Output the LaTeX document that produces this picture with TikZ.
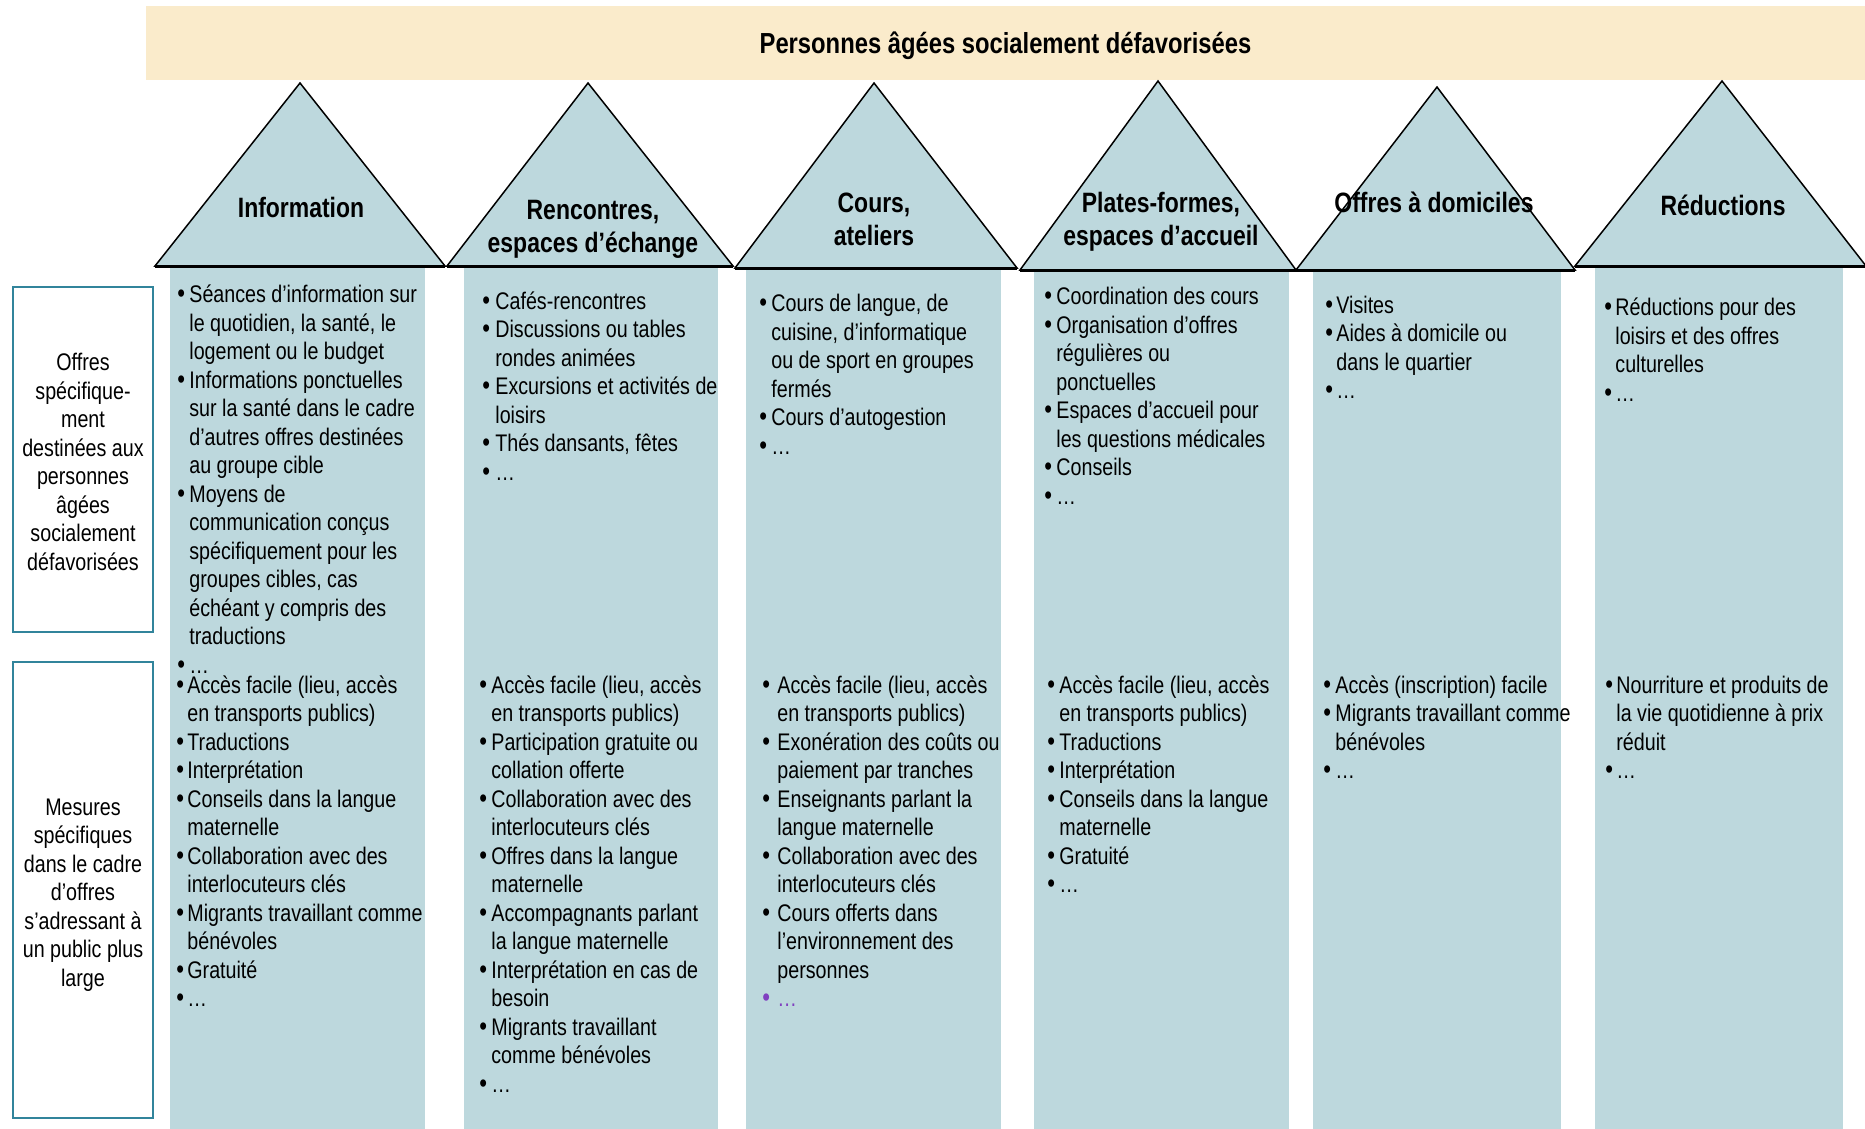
\documentclass[tikz,border=0pt]{standalone}
\usepackage{fontspec}
\setmainfont{Liberation Sans}[FakeStretch=0.82]
\definecolor{bannerc}{HTML}{FAEBCB}
\definecolor{colc}{HTML}{BDD8DD}
\definecolor{boxteal}{HTML}{31849B}
\definecolor{purpc}{HTML}{8040C0}
\newcommand\bodyfont{\fontsize{12pt}{14.25pt}\selectfont}
\newcommand\headfont{\bfseries\fontsize{14pt}{16.5pt}\selectfont}
\newcommand\bstr{\rule[-3.5pt]{0pt}{14.25pt}}
\newcommand\hstr{\rule[-4pt]{0pt}{16.5pt}}
\newcommand\Itm[1][6pt]{\bstr\llap{\makebox[#1][l]{\fontsize{13.5pt}{14pt}\selectfont •}}}
\newcommand\Cnt{\bstr}
\begin{document}
\begin{tikzpicture}[x=0.5pt,y=-0.5pt,
  body/.style={anchor=north west,inner sep=0pt,align=left,font=\bodyfont},
  sidelbl/.style={anchor=north,inner sep=0pt,align=center,font=\bodyfont},
  headlbl/.style={anchor=north,inner sep=0pt,align=center,font=\headfont},
  tri/.style={fill=colc,draw=black,line width=0.75pt,line join=miter},
  tribase/.style={draw=black,line width=1.5pt},
  sidebox/.style={draw=boxteal,line width=1pt,fill=white}]
\useasboundingbox (0,0) rectangle (1865,1129);
% banner
\fill[bannerc] (146,6) rectangle (1865,80);
\node[anchor=base,inner sep=0pt,font=\bfseries\fontsize{14.5pt}{17pt}\selectfont] (title) at (1005.5,54) {Personnes âgées socialement défavorisées};
% columns
\fill[colc] (170,268) rectangle (425,1129);
\fill[colc] (464,268) rectangle (718,1129);
\fill[colc] (746,268) rectangle (1001,1129);
\fill[colc] (1034,270) rectangle (1289,1129);
\fill[colc] (1313,270) rectangle (1561,1129);
\fill[colc] (1595,268) rectangle (1843,1129);
% triangles
\filldraw[tri] (155,266) -- (300,83) -- (445,266) -- cycle;
\draw[tribase] (155,266) -- (445,266);
\filldraw[tri] (447,266) -- (588,83) -- (733,266) -- cycle;
\draw[tribase] (447,266) -- (733,266);
\filldraw[tri] (735,268) -- (874,83) -- (1017,268) -- cycle;
\draw[tribase] (735,268) -- (1017,268);
\filldraw[tri] (1020,270) -- (1158,81) -- (1296,270) -- cycle;
\draw[tribase] (1020,270) -- (1296,270);
\filldraw[tri] (1296,270) -- (1437,87) -- (1575,270) -- cycle;
\draw[tribase] (1296,270) -- (1575,270);
\filldraw[tri] (1575,266) -- (1722,81) -- (1866,266) -- cycle;
\draw[tribase] (1575,266) -- (1866,266);
% triangle labels
\node[headlbl] (h1) at (301,191.8) {\hstr Information};
\node[headlbl] (h2) at (593,193.8) {\hstr Rencontres,\\\hstr espaces d’échange};
\node[headlbl] (h3) at (874,186.8) {\hstr Cours,\\\hstr ateliers};
\node[headlbl] (h4) at (1161,186.8) {\hstr Plates-formes,\\\hstr espaces d’accueil};
\node[headlbl] (h5) at (1434,186.8) {\hstr Offres à domiciles};
\node[headlbl] (h6) at (1723,189.8) {\hstr Réductions};
% side boxes
\draw[sidebox] (13,287) rectangle (153,632);
\draw[sidebox] (13,662) rectangle (153,1118);
\node[sidelbl] (s1) at (83,348.6) {\bstr Offres\\\bstr spécifique-\\\bstr ment\\\bstr destinées aux\\\bstr personnes\\\bstr âgées\\\bstr socialement\\\bstr défavorisées};
\node[sidelbl] (s2) at (83,793.2) {\bstr Mesures\\\bstr spécifiques\\\bstr dans le cadre\\\bstr d’offres\\\bstr s’adressant à\\\bstr un public plus\\\bstr large};
% column 1
\node[body] (c1a) at (189,280.8) {\Itm Séances d’information sur\\
\Cnt le quotidien, la santé, le\\
\Cnt logement ou le budget\\
\Itm Informations ponctuelles\\
\Cnt sur la santé dans le cadre\\
\Cnt d’autres offres destinées\\
\Cnt au groupe cible\\
\Itm Moyens de\\
\Cnt communication conçus\\
\Cnt spécifiquement pour les\\
\Cnt groupes cibles, cas\\
\Cnt échéant y compris des\\
\Cnt traductions\\
\Itm …};
\node[body] (c1b) at (187,671.2) {\Itm[5.5pt]Accès facile (lieu, accès\\
\Cnt en transports publics)\\
\Itm[5.5pt]Traductions\\
\Itm[5.5pt]Interprétation\\
\Itm[5.5pt]Conseils dans la langue\\
\Cnt maternelle\\
\Itm[5.5pt]Collaboration avec des\\
\Cnt interlocuteurs clés\\
\Itm[5.5pt]Migrants travaillant comme\\
\Cnt bénévoles\\
\Itm[5.5pt]Gratuité\\
\Itm[5.5pt]…};
% column 2
\node[body] (c2a) at (495,287.5) {\Itm[6.5pt]Cafés-rencontres\\
\Itm[6.5pt]Discussions ou tables\\
\Cnt rondes animées\\
\Itm[6.5pt]Excursions et activités de\\
\Cnt loisirs\\
\Itm[6.5pt]Thés dansants, fêtes\\
\Itm[6.5pt]…};
\node[body] (c2b) at (491,671.2) {\Itm Accès facile (lieu, accès\\
\Cnt en transports publics)\\
\Itm Participation gratuite ou\\
\Cnt collation offerte\\
\Itm Collaboration avec des\\
\Cnt interlocuteurs clés\\
\Itm Offres dans la langue\\
\Cnt maternelle\\
\Itm Accompagnants parlant\\
\Cnt la langue maternelle\\
\Itm Interprétation en cas de\\
\Cnt besoin\\
\Itm Migrants travaillant\\
\Cnt comme bénévoles\\
\Itm …};
% column 3
\node[body] (c3a) at (771,290) {\Itm Cours de langue, de\\
\Cnt cuisine, d’informatique\\
\Cnt ou de sport en groupes\\
\Cnt fermés\\
\Itm Cours d’autogestion\\
\Itm …};
\node[body] (c3b) at (777,671.2) {\Itm[7.5pt]Accès facile (lieu, accès\\
\Cnt en transports publics)\\
\Itm[7.5pt]Exonération des coûts ou\\
\Cnt paiement par tranches\\
\Itm[7.5pt]Enseignants parlant la\\
\Cnt langue maternelle\\
\Itm[7.5pt]Collaboration avec des\\
\Cnt interlocuteurs clés\\
\Itm[7.5pt]Cours offerts dans\\
\Cnt l’environnement des\\
\Cnt personnes\\
\textcolor{purpc}{\Itm[7.5pt]…}};
% column 4
\node[body] (c4a) at (1056,283) {\Itm Coordination des cours\\
\Itm Organisation d’offres\\
\Cnt régulières ou\\
\Cnt ponctuelles\\
\Itm Espaces d’accueil pour\\
\Cnt les questions médicales\\
\Itm Conseils\\
\Itm …};
\node[body] (c4b) at (1059,671.2) {\Itm Accès facile (lieu, accès\\
\Cnt en transports publics)\\
\Itm Traductions\\
\Itm Interprétation\\
\Itm Conseils dans la langue\\
\Cnt maternelle\\
\Itm Gratuité\\
\Itm …};
% column 5
\node[body] (c5a) at (1336,291.5) {\Itm[5.5pt]Visites\\
\Itm[5.5pt]Aides à domicile ou\\
\Cnt dans le quartier\\
\Itm[5.5pt]…};
\node[body] (c5b) at (1335,671.2) {\Itm Accès (inscription) facile\\
\Itm Migrants travaillant comme\\
\Cnt bénévoles\\
\Itm …};
% column 6
\node[body] (c6a) at (1615,294) {\Itm[5.5pt]Réductions pour des\\
\Cnt loisirs et des offres\\
\Cnt culturelles\\
\Itm[5.5pt]…};
\node[body] (c6b) at (1616,671.2) {\Itm[5.5pt]Nourriture et produits de\\
\Cnt la vie quotidienne à prix\\
\Cnt réduit\\
\Itm[5.5pt]…};
\end{tikzpicture}
\end{document}
